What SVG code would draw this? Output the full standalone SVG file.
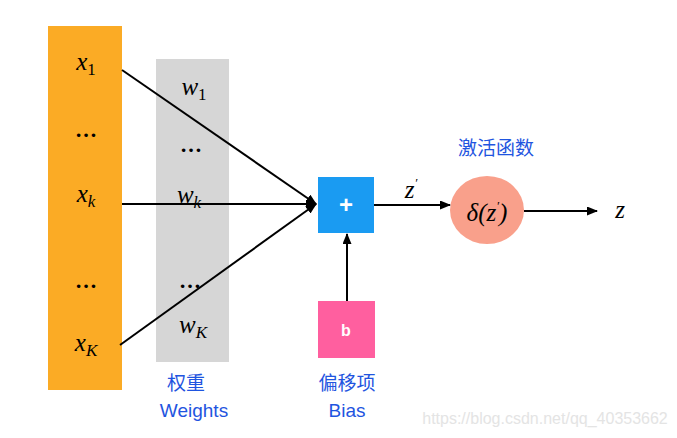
<svg xmlns="http://www.w3.org/2000/svg" width="677" height="438" viewBox="0 0 677 438">
<defs>
<marker id="ah" markerWidth="11" markerHeight="9" refX="10" refY="4.5" orient="auto" markerUnits="userSpaceOnUse">
<path d="M0,0 L11,4.5 L0,9 Z" fill="#000"/>
</marker>
<style>
.m{font-family:"Liberation Serif","DejaVu Serif",serif;font-style:italic;font-size:25px;fill:#000;text-anchor:middle}
.sub{font-size:17px}
.up{font-style:normal}
.dots{font-family:"Liberation Serif",serif;font-size:22px;fill:#000;text-anchor:middle;font-weight:bold}
.lbl{font-family:"Liberation Sans","Noto Sans CJK SC",sans-serif;font-size:19px;fill:#1f55e0;text-anchor:middle}
.ln{stroke:#000;stroke-width:2;fill:none}
</style>
</defs>
<rect width="677" height="438" fill="#fff"/>
<g id="inputs">
<rect x="48" y="26" width="74" height="364" fill="#fbab25"/>
<text class="m" x="86" y="70">x<tspan class="sub up" dy="5">1</tspan></text>
<text class="dots" x="86" y="137">…</text>
<text class="m" x="86" y="202">x<tspan class="sub" dy="5">k</tspan></text>
<text class="dots" x="86" y="288">…</text>
<text class="m" x="86" y="351">x<tspan class="sub" dy="5">K</tspan></text>
</g>
<g id="weights">
<rect x="156" y="59" width="73" height="303" fill="#d6d6d6"/>
<text class="m" x="194" y="95">w<tspan class="sub up" dy="5">1</tspan></text>
<text class="dots" x="191" y="152">…</text>
<text class="m" x="189" y="203">w<tspan class="sub" dy="5">k</tspan></text>
<text class="dots" x="190" y="288">…</text>
<text class="m" x="193" y="333">w<tspan class="sub" dy="5">K</tspan></text>
<text class="lbl" x="186" y="390">权重</text>
<text class="lbl" x="194" y="417">Weights</text>
</g>
<g id="sum">
<rect x="318" y="177" width="56" height="56" fill="#1a9bf2"/>
<text x="346" y="213" font-family="Liberation Sans,sans-serif" font-size="24" font-weight="bold" fill="#fff" text-anchor="middle">+</text>
</g>
<g id="bias">
<rect x="318" y="301" width="57" height="57" fill="#ff5f9f"/>
<text x="346" y="336" font-family="Liberation Sans,sans-serif" font-size="16" font-weight="bold" fill="#fff" text-anchor="middle">b</text>
<text class="lbl" x="347" y="390">偏移项</text>
<text class="lbl" x="347" y="417">Bias</text>
</g>
<g id="activation">
<ellipse cx="487" cy="210" rx="37" ry="34" fill="#f9a08b"/>
<text class="m" x="487" y="221" font-style="normal"><tspan font-style="italic">δ</tspan>(<tspan font-style="italic">z</tspan><tspan font-size="13" dy="-11">′</tspan><tspan dy="11">)</tspan></text>
<text class="lbl" x="496" y="155">激活函数</text>
</g>
<g id="output">
<text class="m" x="620" y="218">z</text>
</g>
<g id="connectors">
<line class="ln" x1="122" y1="70" x2="316" y2="204" marker-end="url(#ah)"/>
<line class="ln" x1="122" y1="204" x2="316" y2="204" marker-end="url(#ah)"/>
<line class="ln" x1="120" y1="345" x2="316" y2="204" marker-end="url(#ah)"/>
<line class="ln" x1="374" y1="205" x2="450" y2="205" marker-end="url(#ah)"/>
<line class="ln" x1="347" y1="301" x2="347" y2="234" marker-end="url(#ah)"/>
<line class="ln" x1="524" y1="211" x2="597" y2="211" marker-end="url(#ah)"/>
<text class="m" x="411" y="198">z<tspan font-size="13" dy="-11">′</tspan></text>
</g>
<text x="545" y="424" font-family="Liberation Sans,sans-serif" font-size="16" fill="#e4e4e4" text-anchor="middle">https://blog.csdn.net/qq_40353662</text>
</svg>
